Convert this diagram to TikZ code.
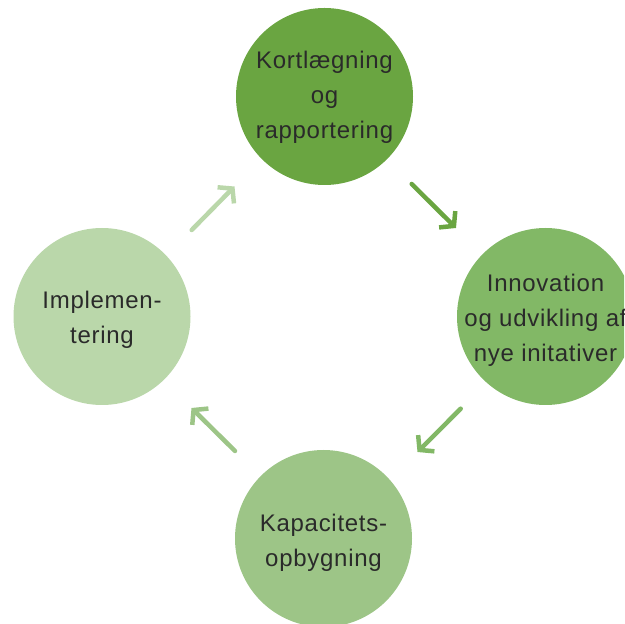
\documentclass[tikz,border=0pt]{standalone}
\usepackage{fontspec}
\setmainfont[LetterSpace=3]{Liberation Sans}
\usetikzlibrary{arrows.meta}
\definecolor{cA}{HTML}{6AA541}
\definecolor{cB}{HTML}{82B866}
\definecolor{cC}{HTML}{9DC587}
\definecolor{cD}{HTML}{BAD7AA}
\definecolor{txt}{HTML}{2A2A2A}
\tikzset{
  stage/.style={circle, minimum size=177pt, inner sep=0pt},
  stagetext/.style={align=center, text=txt, inner sep=0pt,
    font=\fontsize{24}{35}\selectfont},
  flow/.style={line width=4.5pt, line cap=round,
    -{Straight Barb[length=9.5pt,width=23pt]}},
}
\begin{document}
\begin{tikzpicture}[x=1pt,y=1pt]
\useasboundingbox (0,0) rectangle (624,624);
\clip (0,0) rectangle (624,624);
\node[stage, fill=cA, label={[stagetext, yshift=-1pt]center:{Kortlægning\\og\\rapportering}}] (top) at (324.5,527.5) {};
\node[stage, fill=cB, label={[stagetext, yshift=-4pt]center:{Innovation\\og udvikling af\\nye initativer}}] (right) at (545.5,307.5) {};
\node[stage, fill=cC, label={[stagetext, yshift=-4pt]center:{Kapacitets-\\opbygning}}] (bottom) at (323.5,85.5) {};
\node[stage, fill=cD, label={[stagetext, yshift=-3pt]center:{Implemen-\\tering}}] (left) at (102,307.5) {};
\coordinate (a1s) at (411.7,440); \coordinate (a1e) at (456,396);
\coordinate (a2s) at (460.7,215.3); \coordinate (a2e) at (417.5,172);
\coordinate (a3s) at (235,173); \coordinate (a3e) at (191.5,216);
\coordinate (a4s) at (191.7,394); \coordinate (a4e) at (234.5,437.5);
\draw[flow, draw=cA] (a1s) -- (a1e);
\draw[flow, draw=cB] (a2s) -- (a2e);
\draw[flow, draw=cC] (a3s) -- (a3e);
\draw[flow, draw=cD] (a4s) -- (a4e);
\end{tikzpicture}
\end{document}
